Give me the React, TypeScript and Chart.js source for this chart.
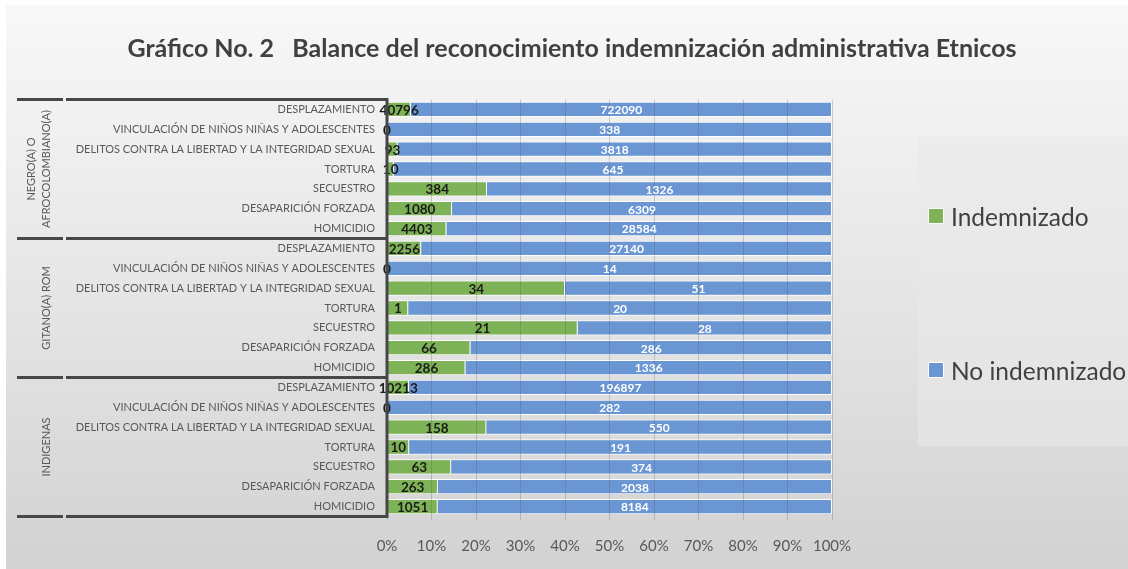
import React, { useEffect, useRef } from 'react';
import { Chart, registerables } from 'chart.js';

Chart.register(...registerables);

const titleText = 'Gráfico No. 2   Balance del reconocimiento indemnización administrativa Etnicos';

const groupLabels: string[][] = [
  ['NEGRO(A) O', 'AFROCOLOMBIANO(A)'],
  ['GITANO(A) ROM'],
  ['INDIGENAS'],
];

const categories = [
  'DESPLAZAMIENTO',
  'VINCULACIÓN DE NIÑOS NIÑAS Y ADOLESCENTES',
  'DELITOS CONTRA LA LIBERTAD Y LA INTEGRIDAD SEXUAL',
  'TORTURA',
  'SECUESTRO',
  'DESAPARICIÓN FORZADA',
  'HOMICIDIO',
];

const indemnizadoNegro = [40796, 0, 93, 10, 384, 1080, 4403];
const noIndemnizadoNegro = [722090, 338, 3818, 645, 1326, 6309, 28584];
const indemnizadoGitano = [2256, 0, 34, 1, 21, 66, 286];
const noIndemnizadoGitano = [27140, 14, 51, 20, 28, 286, 1336];
const indemnizadoIndigenas = [10213, 0, 158, 10, 63, 263, 1051];
const noIndemnizadoIndigenas = [196897, 282, 550, 191, 374, 2038, 8184];

const xTickLabels = ['0%', '10%', '20%', '30%', '40%', '50%', '60%', '70%', '80%', '90%', '100%'];

const seriesNames = ['Indemnizado', 'No indemnizado'];
const GREEN = '#7db356';
const BLUE = '#6a97d4';

const labels = groupLabels.flatMap(() => categories);
const rawInd = [...indemnizadoNegro, ...indemnizadoGitano, ...indemnizadoIndigenas];
const rawNo = [...noIndemnizadoNegro, ...noIndemnizadoGitano, ...noIndemnizadoIndigenas];
const pctInd = rawInd.map((v, i) => (v / (v + rawNo[i])) * 100);
const pctNo = rawNo.map((v, i) => (v / (v + rawInd[i])) * 100);

const decorPlugin = {
  id: 'decor',
  beforeDraw(chart: any) {
    const { ctx, width, height } = chart;
    ctx.save();
    ctx.fillStyle = '#ffffff';
    ctx.fillRect(0, 0, width, height);
    const g = ctx.createLinearGradient(0, 5, 0, height);
    g.addColorStop(0, '#f8f8f8');
    g.addColorStop(0.5, '#e6e6e6');
    g.addColorStop(1, '#d2d2d2');
    ctx.fillStyle = g;
    ctx.fillRect(6, 5, width - 6, height - 5);
    // legend panel
    const lg = ctx.createLinearGradient(0, 137, 0, 446);
    lg.addColorStop(0, '#ececec');
    lg.addColorStop(1, '#e3e3e3');
    ctx.fillStyle = lg;
    ctx.fillRect(918, 137, width - 918, 309);
    // title
    ctx.fillStyle = '#404040';
    ctx.font = 'bold 25px Lato';
    ctx.textAlign = 'center';
    ctx.textBaseline = 'middle';
    ctx.fillText(titleText, 572, 49);
    ctx.restore();
  },
  afterDraw(chart: any) {
    const { ctx, chartArea } = chart;
    const y = chart.scales.y;
    const m0 = chart.getDatasetMeta(0);
    const m1 = chart.getDatasetMeta(1);
    ctx.save();
    // data labels
    ctx.textAlign = 'center';
    ctx.textBaseline = 'middle';
    m0.data.forEach((bar: any, i: number) => {
      const p = bar.getProps(['x', 'y', 'base'], true);
      ctx.font = 'bold 13.5px Lato';
      ctx.fillStyle = '#1a1a1a';
      ctx.fillText(String(rawInd[i]), (p.x + p.base) / 2, p.y + 1);
    });
    m1.data.forEach((bar: any, i: number) => {
      const p = bar.getProps(['x', 'y', 'base'], true);
      ctx.font = 'bold 12px Lato';
      ctx.fillStyle = '#ffffff';
      ctx.fillText(String(rawNo[i]), (p.x + p.base) / 2, p.y + 1);
    });

    // group lines and labels
    const half = (y.getPixelForValue(1) - y.getPixelForValue(0)) / 2;
    const left = chartArea.left;
    ctx.strokeStyle = '#474747';
    ctx.lineWidth = 3;
    const n = categories.length;
    const bounds: number[] = [];
    for (let g = 0; g <= groupLabels.length; g++) {
      const yy = g < groupLabels.length ? y.getPixelForValue(g * n) - half : y.getPixelForValue(g * n - 1) + half;
      bounds.push(yy);
      ctx.beginPath();
      ctx.moveTo(17, yy);
      ctx.lineTo(63, yy);
      ctx.moveTo(66, yy);
      ctx.lineTo(left + 1, yy);
      ctx.stroke();
    }
    ctx.beginPath();
    ctx.moveTo(left, bounds[0] - 1.5);
    ctx.lineTo(left, bounds[bounds.length - 1] + 1.5);
    ctx.stroke();

    ctx.fillStyle = '#595959';
    ctx.font = '11px Lato';
    groupLabels.forEach((lines, gi) => {
      const cy = (bounds[gi] + bounds[gi + 1]) / 2;
      lines.forEach((t, li) => {
        const cx = lines.length === 1 ? 46 : 31 + li * 15;
        ctx.save();
        ctx.translate(cx, cy);
        ctx.rotate(-Math.PI / 2);
        ctx.textAlign = 'center';
        ctx.textBaseline = 'middle';
        ctx.fillText(t, 0, 0);
        ctx.restore();
      });
    });

    // legend
    const items = [
      { text: seriesNames[0], color: GREEN, y: 216 },
      { text: seriesNames[1], color: BLUE, y: 370 },
    ];
    items.forEach((it) => {
      ctx.fillStyle = it.color;
      ctx.fillRect(929, it.y - 7, 14, 14);
      ctx.strokeStyle = '#ffffff';
      ctx.lineWidth = 1;
      ctx.strokeRect(928.5, it.y - 7.5, 15, 15);
      ctx.fillStyle = '#404040';
      ctx.font = '24.5px Lato';
      ctx.textAlign = 'left';
      ctx.textBaseline = 'middle';
      ctx.fillText(it.text, 951, it.y + 2);
    });
    ctx.restore();
  },
};

export default function App() {
  const ref = useRef<HTMLCanvasElement>(null);
  useEffect(() => {
    if (!ref.current) return;
    const chart = new Chart(ref.current, {
      type: 'bar',
      data: {
        labels,
        datasets: [
          { label: seriesNames[0], data: pctInd, backgroundColor: GREEN, borderColor: '#ffffff', borderWidth: 1 },
          { label: seriesNames[1], data: pctNo, backgroundColor: BLUE, borderColor: '#ffffff', borderWidth: 1 },
        ],
      },
      options: {
        indexAxis: 'y',
        responsive: false,
        animation: false,
        devicePixelRatio: 1,
        datasets: { bar: { barPercentage: 0.77, categoryPercentage: 1 } } as any,
        layout: { padding: { left: 16, right: 296, top: 99.5, bottom: 12.5 } },
        plugins: {
          legend: { display: false },
          tooltip: { enabled: false },
          title: { display: false },
        },
        scales: {
          x: {
            stacked: true,
            min: 0,
            max: 100,
            ticks: {
              stepSize: 10,
              autoSkip: false,
              maxRotation: 0,
              callback: (_v: any, i: number) => xTickLabels[i],
              font: { family: 'Lato', size: 15 },
              color: '#595959',
              padding: 17,
            },
            grid: { color: 'rgba(80,80,80,0.25)', z: 1, tickLength: 4, drawTicks: true },
            border: { display: false },
            afterFit: (s: any) => { s.height = 40; },
          } as any,
          y: {
            stacked: true,
            ticks: { autoSkip: false, font: { family: 'Lato', size: 11 }, color: '#595959', padding: 12 },
            grid: { display: false, drawTicks: false },
            border: { display: false },
            afterFit: (s: any) => { s.width = 371; },
          } as any,
        },
      },
      plugins: [decorPlugin],
    });
    return () => chart.destroy();
  }, []);
  return (
    <div style={{ position: 'fixed', left: 0, top: 0, width: 1128, height: 569 }}>
      <canvas ref={ref} width={1128} height={569} style={{ display: 'block' }} />
    </div>
  );
}
